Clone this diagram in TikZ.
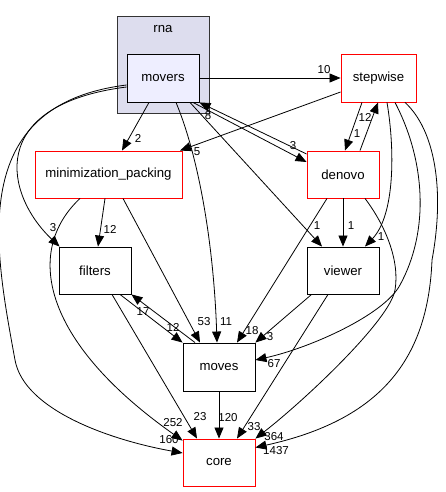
\documentclass[tikz,border=0pt]{standalone}
\usepackage{fontspec}
\setmainfont{Liberation Sans}
\usetikzlibrary{arrows.meta,calc}
\definecolor{clusterfill}{HTML}{DDDDEE}
\definecolor{moversfill}{HTML}{EEEEFF}
\begin{document}
\begin{tikzpicture}[x=1pt,y=-1pt,
  dirbox/.style={draw=black, line width=0.9pt, minimum width=72pt, minimum height=48pt, inner sep=0pt, font=\fontsize{13.2}{15}\selectfont, fill=white},
  redbox/.style={dirbox, draw=red},
  cluster/.style={draw=black!80, line width=0.9pt, fill=clusterfill, inner sep=0pt},
  lbl/.style={font=\fontsize{11.5}{13}\selectfont, inner sep=0pt},
  dep/.style={line width=0.8pt, -{Triangle[length=11pt,width=9pt]}}]
\useasboundingbox (0,0) rectangle (445,492);
% cluster
\node[cluster, minimum width=92pt, minimum height=97pt] (rna) at (163,64.5) {};
\node[font=\fontsize{13.2}{15}\selectfont, inner sep=0pt] (rnalabel) at (163,29) {rna};
% nodes
\node[dirbox, fill=moversfill] (movers) at (163,78) {movers};
\node[redbox, minimum width=75pt] (stepwise) at (378.5,78) {stepwise};
\node[redbox, minimum width=147pt, minimum height=47pt] (min) at (108.5,174.5) {minimization\_packing};
\node[redbox, minimum height=47pt] (denovo) at (343,174.5) {denovo};
\node[dirbox, minimum height=47pt] (filters) at (95,270.5) {filters};
\node[dirbox, minimum height=47pt] (viewer) at (343,270.5) {viewer};
\node[dirbox] (moves) at (219,367) {moves};
\node[redbox, minimum height=47pt] (core) at (219,462.5) {core};
% edges from movers
\draw[dep] (movers.east) -- (stepwise.west);
\node[lbl] (l10) at (324,70) {10};
\draw[dep] ([xshift=-14pt]movers.south) -- ([xshift=13.5pt]min.north);
\node[lbl] (l2) at (138,138) {2};
\draw[dep] ([xshift=30pt]movers.south) -- ([yshift=12.5pt]denovo.west);
\node[lbl] (l3a) at (293,146) {3};
\draw[dep] ([xshift=13pt]movers.south) .. controls (200,160) and (214,250) .. ([xshift=-2pt]moves.north);
\node[lbl] (l11) at (226,322) {11};
\draw[dep] ([xshift=27pt]movers.south) -- ([xshift=-21pt]viewer.north);
\node[lbl] (l1a) at (317,226) {1};
\draw[dep] ([yshift=-9pt]movers.west) .. controls (-15,105) and (5,195) .. ([xshift=1pt]filters.north west);
\node[lbl] (l3b) at (53,228) {3};
\draw[dep] ([yshift=-7pt]movers.west) .. controls (-35,105) and (-5,250) .. (15,360) .. controls (24,410) and (110,440) .. ([yshift=9.5pt]core.west);
\node[lbl] (l160) at (169,440) {160};
% stepwise
\draw[dep] ([yshift=-14pt]stepwise.west) -- ([xshift=71.5pt]min.north);
\node[lbl] (l5) at (197,152) {5};
\draw[dep] ([xshift=-16.5pt]stepwise.south) -- ([xshift=2pt]denovo.north);
\node[lbl] (l1b) at (357,134) {1};
\draw[dep] ([xshift=8.5pt]stepwise.south) .. controls (395,150) and (395,215) .. ([xshift=22pt]viewer.north);
\node[lbl] (l1c) at (381,237) {1};
\draw[dep] ([xshift=16.5pt]stepwise.south) .. controls (425,160) and (430,230) .. (400,285) .. controls (384,315) and (310,348) .. ([yshift=7pt]moves.east);
\node[lbl] (l67) at (274,364) {67};
\draw[dep] ([xshift=26.5pt]stepwise.south) .. controls (435,130) and (445,190) .. (432,260) .. controls (428,360) and (380,420) .. ([yshift=15pt]core.east);
\node[lbl] (l1437) at (276,451) {1437};
% denovo
\draw[dep] ([yshift=20.5pt]denovo.west) -- (movers.south east);
\node[lbl] (l8) at (208,116) {8};
\draw[dep] ([xshift=17pt]denovo.north) -- ([xshift=-0.5pt]stepwise.south);
\node[lbl] (l12a) at (365,117) {12};
\draw[dep] (denovo.south) -- (viewer.north);
\node[lbl] (l1d) at (351,226) {1};
\draw[dep] ([xshift=-16pt]denovo.south) -- ([xshift=18pt]moves.north);
\node[lbl] (l18) at (252,331) {18};
\draw[dep] ([xshift=22pt]denovo.south) .. controls (385,225) and (400,260) .. (395,290) .. controls (390,320) and (305,400) .. (core.north east);
\node[lbl] (l364) at (274,437) {364};
% minimization_packing
\draw[dep] ([xshift=-3.5pt]min.south) -- ([xshift=3pt]filters.north);
\node[lbl] (l12b) at (110,229) {12};
\draw[dep] ([xshift=14.5pt]min.south) -- ([xshift=-19pt]moves.north);
\node[lbl] (l53) at (204,322) {53};
\draw[dep] ([xshift=-28.5pt]min.south) .. controls (25,250) and (40,340) .. ([yshift=-2pt]core.north west);
\node[lbl] (l252) at (173,423) {252};
% filters
\draw[dep] ([xshift=25pt]filters.south) -- (moves.north west);
\node[lbl] (l12c) at (173,327) {12};
\draw[dep] ([xshift=17pt]filters.south) -- ([xshift=-22pt]core.north);
\node[lbl] (l23) at (200,417) {23};
% moves
\draw[dep] ([xshift=-24pt]moves.north) -- (filters.south east);
\node[lbl] (l17) at (143,312) {17};
\draw[dep] (moves.south) -- (core.north);
\node[lbl] (l120) at (228,418) {120};
% viewer
\draw[dep] ([xshift=5pt]viewer.south west) -- (moves.north east);
\node[lbl] (l3c) at (270,337) {3};
\draw[dep] ([xshift=-15pt]viewer.south) -- ([xshift=18pt]core.north);
\node[lbl] (l33) at (254,427) {33};
\end{tikzpicture}
\end{document}
